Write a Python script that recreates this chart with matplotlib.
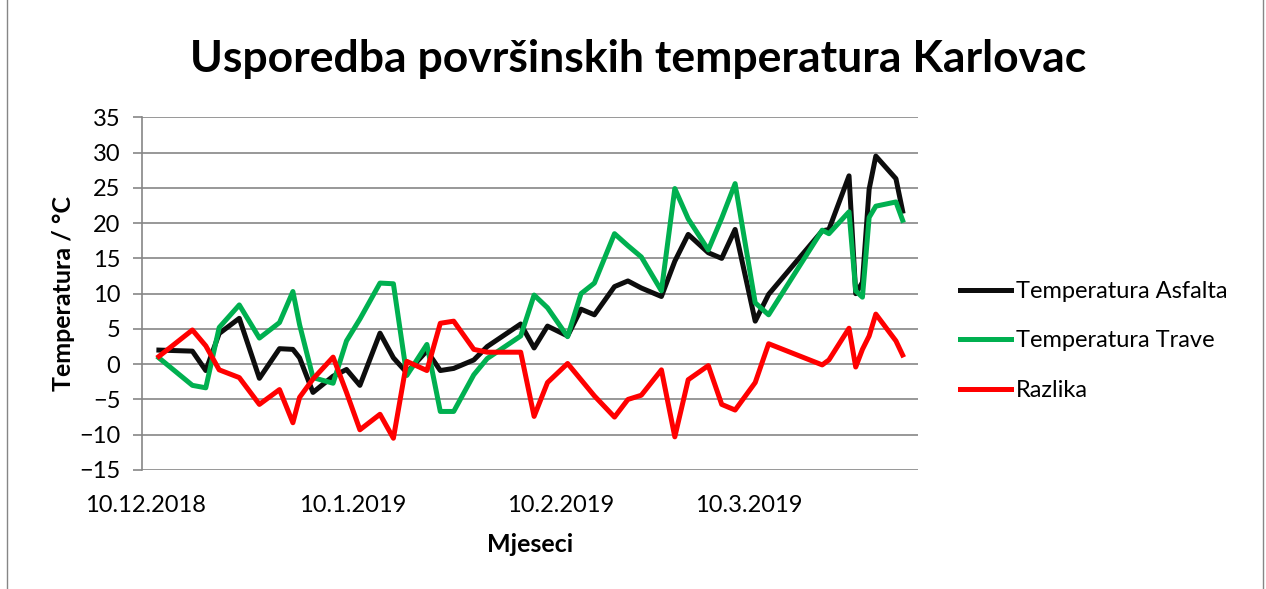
import matplotlib
matplotlib.use("Agg")
import matplotlib.pyplot as plt
import matplotlib.dates as mdates
import numpy as np
import datetime as dt

# dani mjerenja (broj dana od 10.12.2018.)
start = dt.date(2018, 12, 10)
day_offsets = [2, 7, 9, 11, 14, 17, 20, 22, 23, 25, 28, 30, 32, 35, 37, 39, 42, 44,
               46, 49, 51, 56, 58, 60, 63, 65, 67, 70, 72, 74, 77, 79, 81, 84, 86,
               88, 91, 93, 101, 102, 105, 106, 107, 108, 109, 112, 113]

asfalt = [2.0, 1.85, -0.9, 4.35, 6.5, -2.0, 2.2, 2.1, 0.9, -4.0, -1.7, -0.75, -3.0,
          4.4, 0.9, -1.2, 1.9, -0.9, -0.6, 0.6, 2.5, 5.7, 2.3, 5.4, 4.0, 7.8, 7.0,
          11.0, 11.8, 10.8, 9.6, 14.6, 18.4, 15.8, 15.0, 19.1, 6.1, 9.9, 18.9, 19.1,
          26.7, 10.0, 11.6, 24.8, 29.5, 26.3, 21.7]

trava = [0.9, -3.0, -3.35, 5.2, 8.4, 3.7, 5.9, 10.3, 5.6, -1.9, -2.7, 3.3, 6.4,
         11.5, 11.4, -1.6, 2.8, -6.7, -6.7, -1.5, 0.8, 4.0, 9.8, 8.0, 3.9, 10.0, 11.5,
         18.5, 16.8, 15.2, 10.4, 24.9, 20.6, 16.2, 20.7, 25.6, 8.7, 7.0, 19.0, 18.5,
         21.6, 10.4, 9.5, 20.8, 22.4, 23.0, 20.4]

razlika = [1.1, 4.85, 2.6, -0.8, -1.9, -5.7, -3.6, -8.3, -4.7, -2.1, 1.0, -4.0, -9.3,
           -7.1, -10.5, 0.4, -0.9, 5.8, 6.1, 2.1, 1.7, 1.7, -7.4, -2.6, 0.1, -2.2, -4.5,
           -7.5, -5.0, -4.4, -0.8, -10.3, -2.2, -0.2, -5.7, -6.5, -2.6, 2.9, -0.1, 0.6,
           5.1, -0.4, 2.1, 4.0, 7.1, 3.3, 1.3]

dates = [start + dt.timedelta(days=d) for d in day_offsets]

plt.rcParams['font.family'] = ['Lato', 'DejaVu Sans']

fig = plt.figure(figsize=(12.66, 5.89), dpi=100)
ax = fig.add_axes([142 / 1266, 1 - 470 / 589, (917.7 - 142) / 1266, (470 - 117.3) / 589])

ax.plot(dates, asfalt, color='#0d0d0d', lw=3.6, label='Temperatura Asfalta', solid_joinstyle='round')
ax.plot(dates, trava, color='#00b050', lw=3.6, label='Temperatura Trave', solid_joinstyle='round')
ax.plot(dates, razlika, color='#ff0000', lw=3.6, label='Razlika', solid_joinstyle='round')

x0 = mdates.date2num(start)
ax.set_xlim(x0 - 0.52, x0 + 115.25)
ax.set_ylim(-15, 35)
ax.set_yticks(np.arange(-15, 36, 5))
ax.set_xticks([mdates.date2num(dt.date(2018, 12, 10)), mdates.date2num(dt.date(2019, 1, 10)),
               mdates.date2num(dt.date(2019, 2, 10)), mdates.date2num(dt.date(2019, 3, 10))])
ax.set_xticklabels(['10.12.2018', '10.1.2019', '10.2.2019', '10.3.2019'])

ax.grid(axis='y', color='#868686', lw=1.2)
ax.set_axisbelow(True)
for s in ['top', 'right', 'bottom']:
    ax.spines[s].set_visible(False)
ax.spines['left'].set_color('#868686')
ax.spines['left'].set_linewidth(1.2)
ax.tick_params(axis='y', length=6.5, width=1.2, color='#868686', pad=9, labelsize=17)
ax.tick_params(axis='x', length=0, pad=18, labelsize=17)

ax.set_xlabel('Mjeseci', fontsize=18, fontweight='bold', labelpad=12)
ax.set_ylabel('Temperatura / °C', fontsize=18, fontweight='bold', labelpad=3)

fig.text(638 / 1266, 1 - 59 / 589, 'Usporedba površinskih temperatura Karlovac',
         ha='center', va='center', fontsize=32, fontweight='bold')

fig.legend(loc='center left', bbox_to_anchor=(939 / 1266, 1 - 341 / 589), frameon=False,
           fontsize=17, handlelength=2.15, handletextpad=0.2, labelspacing=1.2)

# okvir grafikona
fig.add_artist(plt.Line2D([7 / 1266, 7 / 1266], [0, 1], color='#868686', lw=1.0))
fig.add_artist(plt.Line2D([1263 / 1266, 1263 / 1266], [0, 1], color='#868686', lw=1.0))

fig.savefig('out.png', dpi=100)
